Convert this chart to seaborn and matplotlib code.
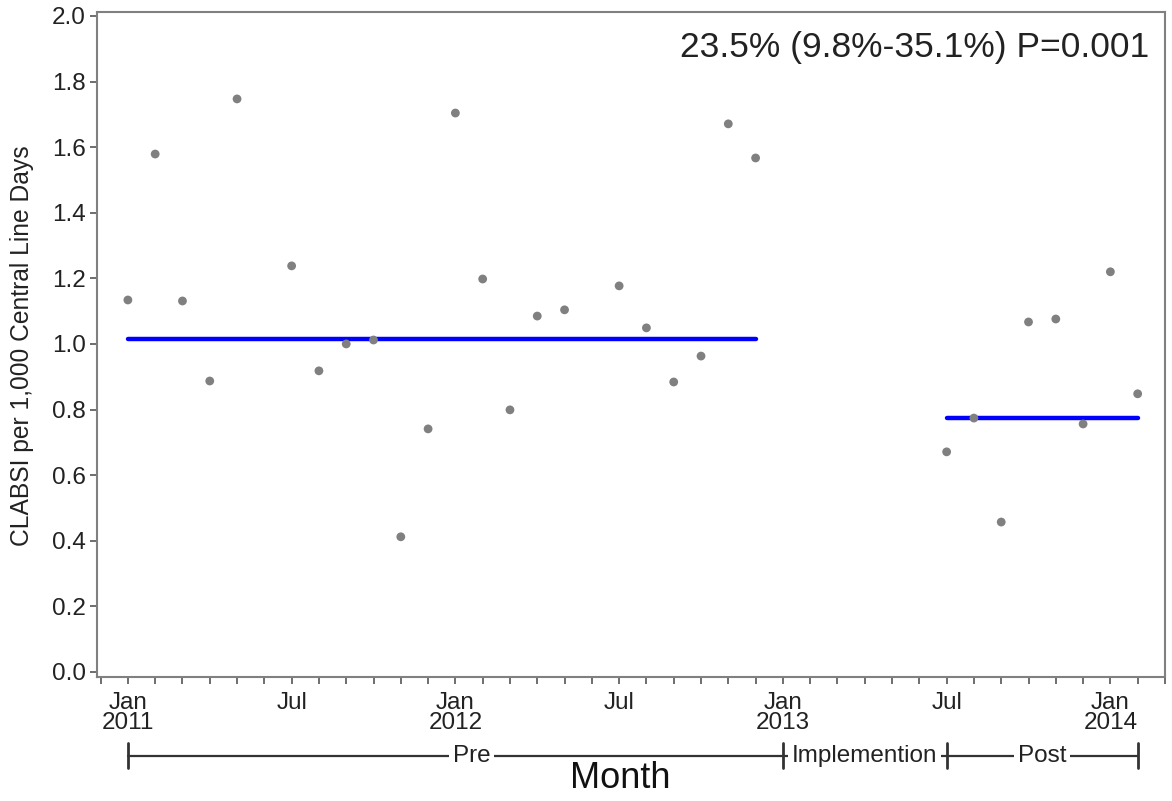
import numpy as np
import pandas as pd
import matplotlib
matplotlib.use("Agg")
import matplotlib.pyplot as plt
import matplotlib.transforms as mtransforms
import seaborn as sns

# ---- data ----
months = pd.period_range("2011-01", "2014-02", freq="M").astype(str).tolist()
rate = [1.134, 1.579, 1.131, 0.887, 1.747, None, 1.238, 0.918, 1.000, 1.012, 0.412, 0.741,
        1.704, 1.198, 0.799, 1.085, 1.104, None, 1.177, 1.049, 0.884, 0.963, 1.671, 1.567,
        None, None, None, None, None, None,
        0.671, 0.774, 0.457, 1.067, 1.076, 0.756, 1.220, 0.848]
pre_mean = 1.015
post_mean = 0.774
phase_names = ["Pre", "Implemention", "Post"]
phase_bounds = ["2011-01", "2013-01", "2013-07", "2014-02"]
mean_segments = {"Pre": ("2011-01", "2012-12", pre_mean), "Post": ("2013-07", "2014-02", post_mean)}
tick_labels = {"2011-01": "Jan\n2011", "2011-07": "Jul", "2012-01": "Jan\n2012", "2012-07": "Jul",
               "2013-01": "Jan\n2013", "2013-07": "Jul", "2014-01": "Jan\n2014"}
annotation = "23.5% (9.8%-35.1%) P=0.001"

idx = {m: i for i, m in enumerate(months)}
df = pd.DataFrame({"month": months, "m": range(len(months)), "rate": rate}).dropna()

sns.set_theme(style="white")
plt.rcParams["font.family"] = ["Liberation Sans", "DejaVu Sans"]

fig = plt.figure(figsize=(11.72, 8.01), dpi=100)
ax = fig.add_axes([0.0828, 0.155, 0.9112, 0.830])

sns.scatterplot(data=df, x="m", y="rate", ax=ax, color="#808080", s=40, edgecolor="none", zorder=3)
for name, (a, b, v) in mean_segments.items():
    seg = pd.DataFrame({"m": [idx[a], idx[b]], "v": [v, v]})
    sns.lineplot(data=seg, x="m", y="v", ax=ax, color="#0000FF", linewidth=3.2, zorder=2)

ax.set_xlim(-1.13, 38.0)
ax.set_ylim(-0.015, 2.012)
ax.set_yticks(np.arange(0, 2.01, 0.2))
ax.set_yticklabels([f"{v:.1f}" for v in np.arange(0, 2.01, 0.2)])
ax.set_xticks(range(-1, 39))
ax.set_xticklabels([tick_labels.get(months[i], "") if 0 <= i < len(months) else "" for i in range(-1, 39)])
ax.tick_params(axis="both", direction="out", length=5, width=1.2, color="#555555",
               labelsize=17.5, labelcolor="#222222", pad=3, bottom=True, left=True)
ax.tick_params(axis="x", pad=6)
for lbl in ax.get_xticklabels():
    lbl.set_linespacing(0.9)
for s in ax.spines.values():
    s.set_color("#808080")
    s.set_linewidth(1.5)
ax.set_xlabel("")
ax.set_ylabel("")
ax.text(-0.07, 0.498, "CLABSI per 1,000 Central Line Days", transform=ax.transAxes, rotation=90,
        ha="center", va="center", fontsize=17.7, color="#222222")

ax.text(0.985, 0.947, annotation, transform=ax.transAxes, ha="right", va="center",
        fontsize=25.5, color="#222222")

# phase brackets below the axis
trans = mtransforms.blended_transform_factory(ax.transData, ax.transAxes)
yb = -0.1188
bx = [idx[b] for b in phase_bounds]
ax.plot([bx[0], bx[-1]], [yb, yb], transform=trans, color="#333333", lw=1.6, clip_on=False)
for x in bx:
    ax.plot([x, x], [yb + 0.019, yb - 0.019], transform=trans, color="#333333", lw=2, clip_on=False)
label_x = {"Pre": 12.6, "Implemention": 27.0, "Post": 33.5}
for name in phase_names:
    ax.text(label_x[name], yb, name, transform=trans, ha="center", va="center", fontsize=17.5,
            color="#222222",
            bbox=dict(boxstyle="square,pad=0.15", facecolor="white", edgecolor="none"))
ax.text(0.49, -0.1535, "Month", transform=ax.transAxes, ha="center", va="center", fontsize=26,
        color="#111111")

fig.savefig("out.png", dpi=100, facecolor="white")
